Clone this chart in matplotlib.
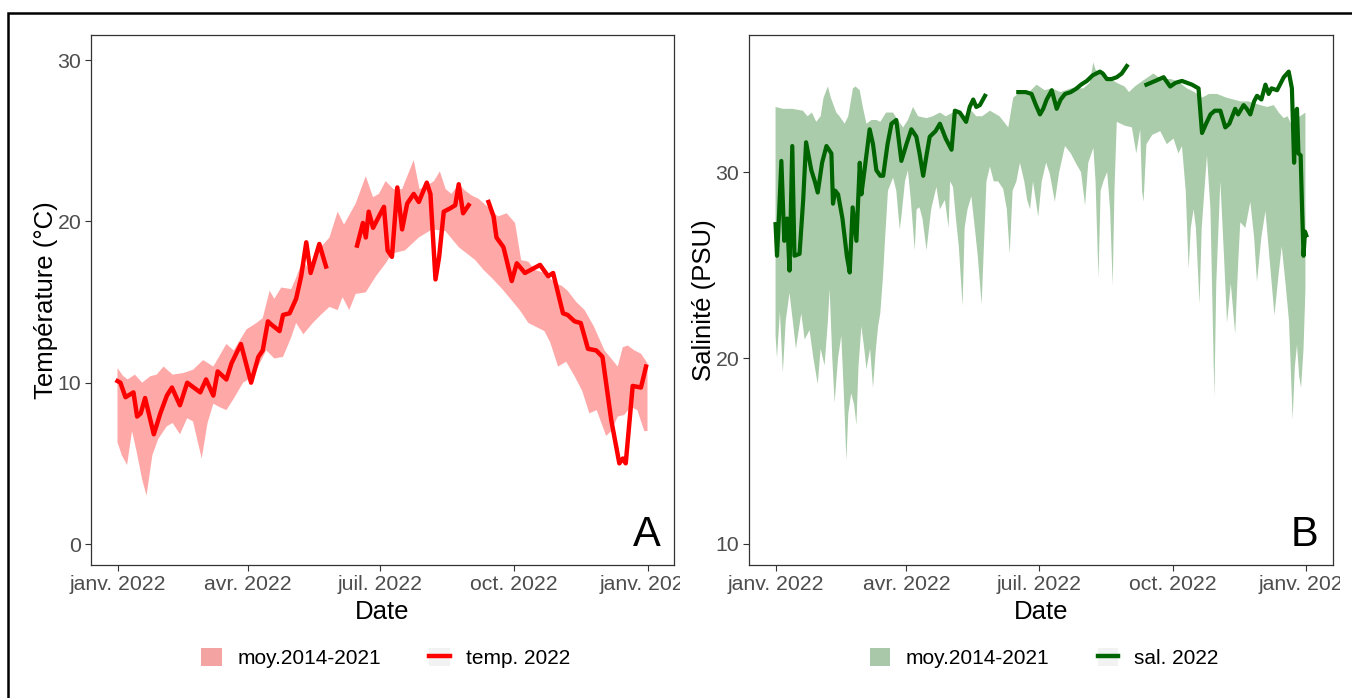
import numpy as np
import matplotlib
matplotlib.use("Agg")
import matplotlib.pyplot as plt
from matplotlib.patches import Patch, Rectangle
from matplotlib.lines import Line2D
from matplotlib.transforms import Bbox, TransformedBbox

plt.rcParams['font.family'] = ['Liberation Sans', 'DejaVu Sans']

# ---- data (days since 2022-01-01) ----
temp_days = [0, 2, 5.5, 11, 13.5, 16, 19, 25, 29.5, 34, 37.5, 43, 48, 57, 61, 66, 69,
             75, 78.5, 85, 92, 97, 100, 103.6, 106, 111.6, 114, 118.5, 123, 126.5, 130,
             133, 139, 143.6, 150,
             165, 169, 171, 173, 176, 180, 183.5, 186, 189, 192.7, 196, 199.5, 204,
             207.5, 213, 215.5, 219, 221.5, 224.7, 229, 232.6, 235, 238, 241.8, 248,
             255.5, 259, 261, 265.8, 271.5, 275, 280.6, 291, 296.6, 300, 306.8, 310,
             314.8, 319, 324, 329.7, 334, 340, 345.6, 348, 350, 354.8, 360.5, 364]
temp_2022 = [10.1, 10.0, 9.1, 9.4, 7.9, 8.1, 9.05, 6.8, 8.1, 9.2, 9.7, 8.6, 10.0, 9.4,
             10.2, 9.2, 10.7, 10.2, 11.2, 12.4, 10.0, 11.6, 12.0, 13.8, 13.6, 13.2, 14.2,
             14.3, 15.2, 16.6, 18.7, 16.8, 18.6, 17.2, np.nan,
             18.5, 19.9, 19.0, 20.6, 19.6, 20.3, 20.9, 18.2, 17.8, 22.1, 19.5, 21.1, 21.7,
             21.2, 22.4, 21.7, 16.4, 17.8, 20.6, 20.8, 21.0, 22.3, 20.5, 21.0, np.nan,
             21.2, 20.3, 19.0, 18.4, 16.3, 17.4, 16.8, 17.3, 16.6, 16.8, 14.3, 14.2,
             13.8, 13.7, 12.1, 12.0, 11.6, 7.7, 5.0, 5.3, 5.0, 9.8, 9.7, 11.0]

temp_up_days = [0, 4, 7, 12, 17, 22.6, 27, 31.7, 38, 45.4, 52, 59, 66, 75, 80, 88.8,
                95.7, 100, 104.8, 108, 112.8, 119.6, 123, 127.6, 132, 136.8, 141, 146,
                151.6, 156, 164, 171, 176, 180, 184.7, 190, 196, 204, 208, 213, 218,
                222, 226, 230, 235, 239.5, 244, 248.6, 255, 262, 268, 273.8, 278, 283,
                287, 294, 301, 306, 310, 316, 321.7, 328, 335.4, 340, 344.5, 348, 351.4,
                356, 360.5, 365]
temp_up = [10.9, 10.4, 10.2, 10.5, 10.0, 10.4, 10.5, 11.0, 10.5, 10.6, 10.8, 11.4, 11.0,
           12.4, 12.0, 13.3, 13.7, 14.0, 15.7, 15.2, 15.9, 15.8, 16.5, 17.6, 17.0, 18.2,
           18.5, 19.0, 20.6, 19.8, 21.1, 22.8, 21.5, 21.7, 22.5, 22.0, 22.0, 23.8, 22.0,
           22.2, 22.5, 23.1, 22.0, 21.7, 22.3, 21.9, 21.6, 21.4, 20.9, 20.3, 20.5, 19.9,
           17.6, 17.5, 17.0, 16.8, 16.2, 16.0, 15.7, 15.0, 14.5, 13.5, 12.0, 11.5, 11.0,
           12.2, 12.3, 12.0, 11.8, 11.2]

temp_lo_days = [0, 3, 6.6, 10, 13, 17, 20, 24, 28, 34, 38, 43, 48, 52, 58, 62, 66, 70,
                75, 80, 86.5, 92, 95.7, 102.5, 108, 114, 119.6, 123, 128, 134.5, 140,
                146, 151.6, 155, 159.6, 164, 171, 178, 184.7, 189, 198, 207.5, 216.6,
                225.8, 235, 246.4, 252, 257.7, 265, 271.5, 277, 283, 294, 298, 303.4,
                309, 314.8, 320, 325, 330, 336.5, 340, 344.5, 349, 353.6, 358, 362.8, 365]
temp_lo = [6.3, 5.5, 4.9, 7.0, 5.8, 4.0, 3.0, 5.5, 6.5, 7.3, 7.5, 6.8, 7.8, 7.6, 5.3,
           7.5, 8.7, 8.5, 8.3, 9.0, 10.0, 10.3, 10.8, 12.0, 11.5, 11.6, 12.8, 13.7, 13.0,
           13.7, 14.2, 14.7, 14.5, 15.3, 14.5, 15.5, 15.6, 16.6, 17.4, 18.0, 18.2, 19.0,
           19.5, 19.4, 18.4, 17.6, 17.0, 16.5, 15.8, 15.1, 14.5, 13.7, 13.2, 12.5, 11.0,
           11.3, 10.4, 9.5, 8.1, 8.3, 6.7, 7.0, 7.9, 8.0, 8.5, 8.3, 7.0, 7.0]

sal_days = [0, 1, 2, 4, 6, 8, 9.6, 11.5, 13, 16.5, 19, 21, 24.6, 27, 29, 32, 35, 38.4,
            39.5, 41, 43, 46, 49, 51, 53, 55.6, 57.9, 59, 61, 64.7, 67, 69.3, 72, 74,
            77, 79.7, 83, 86.5, 90, 93.4, 96.8, 99, 101.5, 104, 106, 110, 113, 117, 121,
            123.3, 126.7, 131, 133.5, 135.9, 138, 140.5, 144, 155,
            166.9, 172, 176, 179, 181.8, 184, 186.4, 189.9, 193.3, 196, 199, 203, 207,
            210, 214, 218, 223, 225, 227.8, 231, 234.6, 238, 241.5, 248,
            255, 261, 266.8, 271.3, 275, 279.4, 286.3, 290.8, 293.2, 296, 299, 302,
            305.8, 309.2, 312, 316, 318, 321.8, 324, 326.4, 329, 331, 334, 336.8, 339,
            341, 344.8, 349.4, 352.8, 355, 356.5, 357.5, 358.5, 359.5, 361, 362, 363,
            364, 364.9]
sal_2022 = [27.2, 25.5, 27.0, 30.6, 26.3, 27.5, 24.7, 31.4, 25.5, 25.6, 28.5, 31.6, 30.1,
            29.5, 28.9, 30.5, 31.4, 31.0, 28.3, 29.0, 28.8, 27.5, 25.5, 24.6, 28.1, 26.3,
            30.5, 28.8, 30.0, 32.3, 31.5, 30.1, 29.8, 29.8, 31.5, 32.6, 32.8, 30.6, 31.5,
            32.3, 31.9, 31.0, 29.8, 31.0, 31.9, 32.2, 32.6, 31.8, 31.2, 33.3, 33.2, 32.7,
            33.5, 33.9, 33.5, 33.6, 34.1, np.nan,
            34.3, 34.3, 34.2, 33.6, 33.1, 33.4, 33.9, 34.4, 33.4, 33.9, 34.2, 34.3, 34.5,
            34.7, 34.9, 35.2, 35.4, 35.3, 35.0, 35.0, 35.1, 35.3, 35.7, np.nan,
            34.7, 34.9, 35.1, 34.6, 34.8, 34.9, 34.7, 34.5, 32.1, 32.6, 33.1, 33.3, 33.3,
            32.4, 32.6, 33.4, 33.1, 33.6, 33.4, 33.1, 33.8, 34.1, 33.9, 34.7, 34.2, 34.5,
            34.4, 35.1, 35.4, 34.5, 30.5, 33.0, 33.4, 31.0, 30.9, 28.0, 25.5, 26.8, 26.6]

sal_up_days = [0, 5, 11.5, 18.8, 22, 25, 28, 31, 33, 36, 38, 41.8, 44, 47.5, 50, 53.2,
               55, 57.9, 60, 62.5, 66, 69.3, 72, 76, 80.8, 84, 87.7, 91, 94.5, 98, 103.7,
               108, 113, 117, 122, 126, 130, 133.6, 138, 142, 147.4, 154, 160, 163.4,
               168, 173, 179.5, 185, 190, 196, 203, 211.6, 216, 218.5, 220, 225.4, 230,
               234.6, 240, 243, 247, 252.3, 259.8, 265, 272, 278, 282.8, 288, 293.2, 298,
               303.5, 310, 315, 319.5, 325, 333.3, 338, 342.5, 346, 349.4, 352, 355, 357,
               360.7, 364.3]
sal_up = [33.5, 33.4, 33.4, 33.3, 33.0, 33.2, 32.7, 33.0, 34.0, 34.6, 34.0, 33.2, 33.0,
          32.6, 33.0, 34.5, 34.6, 34.4, 33.5, 32.6, 32.8, 32.8, 32.7, 33.2, 33.2, 32.8,
          32.4, 32.8, 33.5, 33.0, 32.9, 33.0, 33.2, 33.0, 33.2, 33.3, 33.0, 33.4, 33.0,
          33.0, 33.3, 33.0, 32.4, 34.0, 34.3, 34.2, 34.7, 34.4, 34.5, 34.3, 34.5, 34.5,
          34.8, 35.9, 35.5, 35.2, 35.0, 34.8, 34.6, 34.3, 34.6, 34.9, 35.3, 35.0, 35.0,
          34.8, 34.5, 34.3, 34.0, 34.2, 34.2, 34.0, 33.9, 33.8, 33.8, 33.6, 33.5, 33.6,
          33.2, 32.9, 33.0, 32.5, 33.0, 33.0, 33.2]

sal_lo_days = [0, 1, 3, 5, 7, 9.6, 12, 14, 17.7, 20, 23.4, 26, 29, 31, 33.7, 36, 37.2,
               39, 40.6, 43, 45.2, 47, 48.7, 50, 52, 54, 55.6, 57, 59, 61, 62.5, 65, 67,
               69, 70.5, 72, 73.9, 75, 77.3, 80.8, 83, 85.4, 86.5, 89, 91, 93, 95.7, 97,
               99, 101, 103.8, 107, 110.6, 113, 116.4, 119, 120, 122, 124, 126, 128.6,
               130, 132, 134.6, 137, 139, 141.7, 143.5, 145, 147.4, 150, 153, 156.5, 159,
               161, 163, 165.6, 168, 171, 173, 175, 177, 180.6, 183, 186, 188.6, 192, 195,
               199, 203, 207, 210, 212.8, 215, 218.5, 220, 222, 223.5, 225.4, 228, 230,
               231.8, 233, 234.6, 240, 245, 248, 250.7, 252, 253, 255, 259, 264.5, 269,
               273.6, 277, 279.4, 282, 284, 285.5, 287.4, 289, 291.5, 293, 296.6, 299,
               301.7, 303, 305.8, 308, 310.4, 313, 316, 318, 319.5, 323, 326.4, 329, 331,
               334, 336.8, 340, 343, 346, 348, 350.5, 353, 355.5, 357, 358.5, 360, 361.3,
               363, 364.3]
sal_lo = [21.2, 20.0, 22.5, 19.2, 22.0, 23.5, 21.9, 20.5, 22.4, 21.0, 21.5, 20.0, 18.6,
          20.5, 19.6, 22.0, 23.7, 20.0, 17.6, 20.0, 21.2, 18.0, 14.5, 17.0, 18.1, 17.5,
          16.4, 19.5, 21.7, 20.5, 19.4, 20.5, 18.4, 20.5, 21.7, 22.4, 24.4, 26.0, 29.0,
          29.7, 29.0, 26.9, 27.6, 29.5, 30.1, 28.5, 25.8, 28.0, 28.1, 27.5, 25.8, 28.0,
          29.2, 28.0, 28.5, 27.0, 29.5, 29.2, 27.5, 26.0, 22.8, 27.0, 28.0, 28.7, 27.0,
          25.5, 22.9, 26.5, 29.5, 30.3, 29.5, 29.5, 29.1, 28.0, 25.6, 29.0, 29.5, 30.5,
          29.5, 28.5, 28.0, 29.5, 27.6, 29.5, 30.5, 29.9, 28.4, 30.0, 31.4, 31.0, 30.4,
          30.0, 28.2, 30.5, 31.3, 29.5, 24.3, 29.0, 29.5, 30.0, 28.0, 23.9, 29.0, 32.7,
          32.5, 32.4, 31.0, 32.3, 29.0, 28.4, 31.5, 32.0, 32.2, 31.5, 31.8, 31.0, 31.4,
          29.0, 24.8, 27.0, 28.0, 27.0, 22.9, 27.0, 30.9, 28.0, 17.9, 24.0, 29.5, 26.0,
          21.9, 24.0, 21.3, 25.0, 27.3, 27.0, 28.4, 26.5, 24.1, 26.5, 27.9, 25.0, 22.3,
          24.6, 26.0, 24.1, 22.0, 16.7, 19.5, 20.7, 19.0, 18.4, 20.5, 23.7]

tick_days = [0, 90, 181, 273, 365]
tick_labels = ["janv. 2022", "avr. 2022", "juil. 2022", "oct. 2022", "janv. 2023"]

W, H = 1352, 698
T0 = np.datetime64('2022-01-01T00:00')


def to_dates(days):
    return T0 + (np.asarray(days, dtype=float) * 1440).astype('timedelta64[m]')


def style_axes(ax, clip_px):
    ax.set_xlim(to_dates([-18.25])[0], to_dates([383.25])[0])
    ax.set_xticks(to_dates(tick_days))
    ax.set_xticklabels(tick_labels)
    for s in ax.spines.values():
        s.set_color('#333333')
        s.set_linewidth(0.9)
    ax.tick_params(length=4, width=0.8, color='#333333', labelcolor='#4D4D4D',
                   labelsize=15.3, pad=3)
    ax.set_xlabel("Date", fontsize=18.5, labelpad=4.5)
    # last label is cut by the plot region in the original
    lab = ax.xaxis.get_major_ticks()[-1].label1
    lab.set_clip_on(True)
    lab.set_clip_box(TransformedBbox(Bbox.from_extents(0, 0, clip_px / W, 1), fig.transFigure))


def add_legend(ax, fill_col, line_col, line_label):
    ax.legend(handles=[(Patch(facecolor='#F2F2F2'), Patch(facecolor=fill_col)),
                       (Patch(facecolor='#F2F2F2'), Line2D([], [], color=line_col, lw=3.2))],
              labels=["moy.2014-2021", line_label], loc='center',
              bbox_to_anchor=(0.505, -0.175), ncol=2, frameon=False, fontsize=15,
              handlelength=1.0, handleheight=1.0, handletextpad=0.75, columnspacing=2.3)


fig = plt.figure(figsize=(W / 100, H / 100), dpi=100)
axA = fig.add_axes([91 / W, 1 - 565 / H, (674 - 91) / W, 530 / H])
axB = fig.add_axes([749 / W, 1 - 565 / H, (1333 - 749) / W, 530 / H])

# ---- panel A: temperature ----
axA.fill(np.concatenate([to_dates(temp_up_days), to_dates(temp_lo_days)[::-1]]),
         np.concatenate([temp_up, temp_lo[::-1]]), color='#FFA8A8', lw=0)
axA.plot(to_dates(temp_days), temp_2022, color='red', lw=3.2, solid_joinstyle='round')
axA.set_ylim(-1.3, 31.55)
axA.set_yticks([0, 10, 20, 30])
axA.set_ylabel("Température (°C)", fontsize=18.5, labelpad=0)
style_axes(axA, 680)
axA.text(0.977, 0.036, "A", transform=axA.transAxes, ha='right', va='baseline', fontsize=30)
add_legend(axA, '#F4A3A3', 'red', "temp. 2022")

# ---- panel B: salinity ----
axB.fill(np.concatenate([to_dates(sal_up_days), to_dates(sal_lo_days)[::-1]]),
         np.concatenate([sal_up, sal_lo[::-1]]), color='#ABCCAB', lw=0)
axB.plot(to_dates(sal_days), sal_2022, color='#006400', lw=3.0, solid_joinstyle='round')
axB.set_ylim(8.87, 37.37)
axB.set_yticks([10, 20, 30])
axB.set_ylabel("Salinité (PSU)", fontsize=18.5, labelpad=0)
style_axes(axB, 1340)
axB.text(0.975, 0.036, "B", transform=axB.transAxes, ha='right', va='baseline', fontsize=30)
add_legend(axB, '#A9C8A9', '#006400', "sal. 2022")

# outer frame of the original figure
fig.patches.append(Rectangle((8 / W, -0.05), 1.1, 1 - 13 / H + 0.05, transform=fig.transFigure,
                             fill=False, edgecolor='black', lw=1.8, clip_on=False))

fig.savefig("out.png", dpi=100)
